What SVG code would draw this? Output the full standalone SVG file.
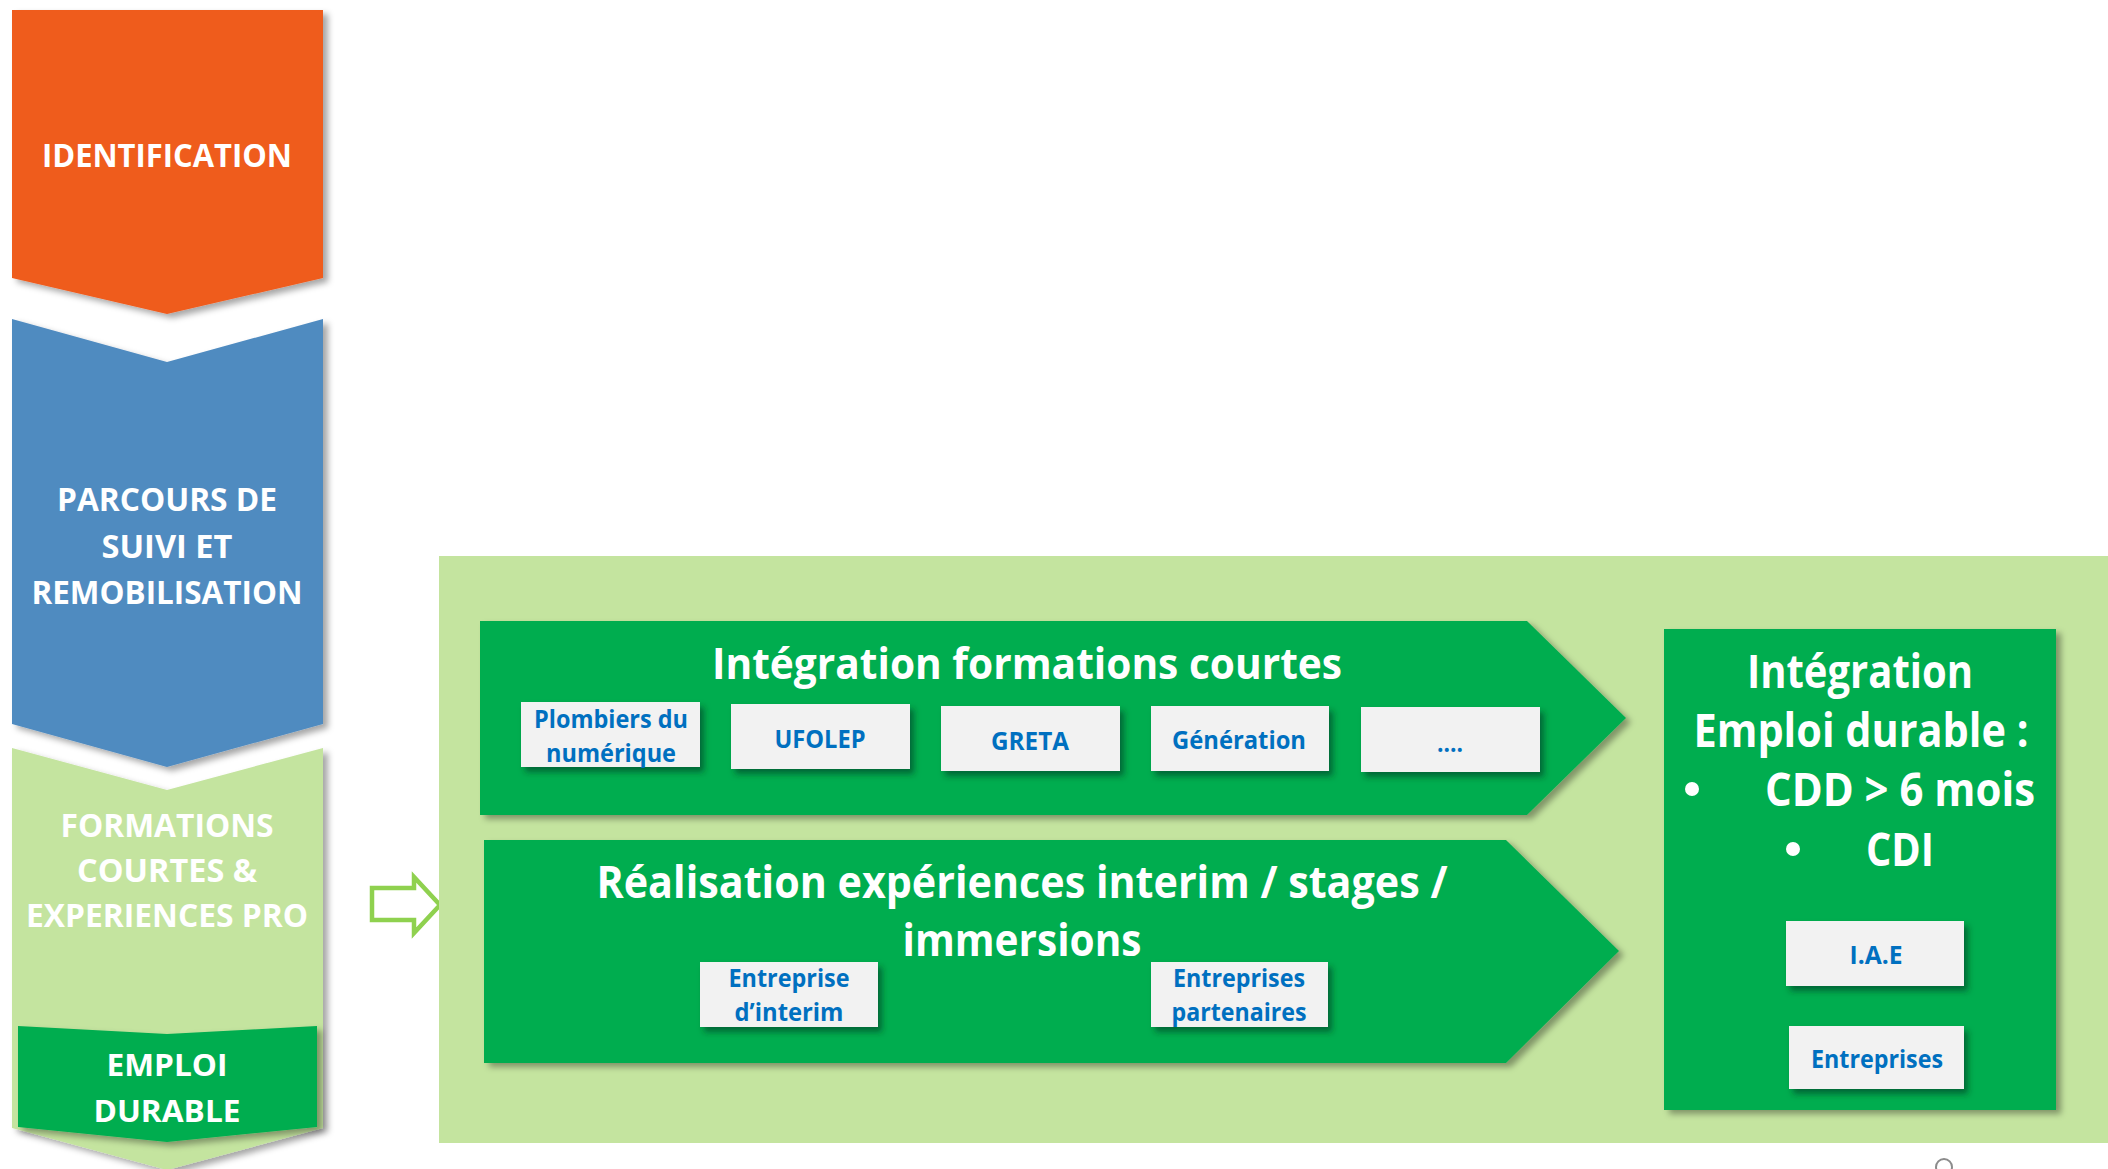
<svg xmlns="http://www.w3.org/2000/svg" width="2108" height="1169" viewBox="0 0 2108 1169">
<defs>
<filter id="sh" x="-10%" y="-10%" width="130%" height="130%">
<feDropShadow dx="5" dy="4" stdDeviation="3" flood-color="#000" flood-opacity="0.35"/>
</filter>
<filter id="shb" x="-10%" y="-10%" width="130%" height="140%">
<feDropShadow dx="4" dy="5" stdDeviation="3" flood-color="#00331a" flood-opacity="0.55"/>
</filter>
</defs>
<style>
text{font-family:"Open Sans","Liberation Sans",sans-serif;font-weight:bold;text-anchor:middle}
.w{fill:#fff}
.b{fill:#0070C0;font-size:25px}
.box{fill:#F2F2F2;filter:url(#shb)}
.grn{fill:#00AD4F;filter:url(#sh)}
.left{font-size:32px}
</style>
<rect width="2108" height="1169" fill="#fff"/>

<g id="identification">
<polygon points="12,10 323,10 323,278 167,314 12,278" fill="#EF5B1D" filter="url(#sh)"/>
<text class="w" x="167" y="167" font-size="33" textLength="250" lengthAdjust="spacingAndGlyphs">IDENTIFICATION</text>
</g>

<g id="parcours">
<polygon points="12,319 167,362 323,319 323,724 167,767 12,724" fill="#508BC0" filter="url(#sh)"/>
<text class="w left" x="167" y="511" textLength="220" lengthAdjust="spacingAndGlyphs">PARCOURS DE</text>
<text class="w left" x="167" y="558" textLength="131" lengthAdjust="spacingAndGlyphs">SUIVI ET</text>
<text class="w left" x="167" y="604" textLength="271" lengthAdjust="spacingAndGlyphs">REMOBILISATION</text>
</g>

<g id="formations">
<polygon points="12,748 167,790 323,748 323,1128 167,1170 12,1128" fill="#C4E49F" filter="url(#sh)"/>
<text class="w left" x="167" y="837" textLength="213" lengthAdjust="spacingAndGlyphs">FORMATIONS</text>
<text class="w left" x="167" y="882" textLength="180" lengthAdjust="spacingAndGlyphs">COURTES &amp;</text>
<text class="w left" x="167" y="927" textLength="282" lengthAdjust="spacingAndGlyphs">EXPERIENCES PRO</text>
</g>

<g id="emploi-durable">
<polygon points="18,1026 167,1034 317,1026 317,1127 167,1142 18,1127" fill="#00AD4F" filter="url(#sh)"/>
<text class="w" x="167" y="1076" font-size="31" textLength="121" lengthAdjust="spacingAndGlyphs">EMPLOI</text>
<text class="w" x="167" y="1122" font-size="31" textLength="147" lengthAdjust="spacingAndGlyphs">DURABLE</text>
</g>

<g id="connectors">
<path d="M372,888 H414 V877 L440,905 L414,933 V920 H372 Z" fill="#fff" stroke="#8FD14F" stroke-width="4.5" stroke-linejoin="miter"/>
</g>

<g id="panel">
<rect x="439" y="556" width="1669" height="587" fill="#C4E49F"/>
</g>

<g id="formations-courtes">
<polygon class="grn" points="480,621 1527,621 1626,718 1527,815 480,815"/>
<text class="w" x="1027" y="679" font-size="43" textLength="630" lengthAdjust="spacingAndGlyphs">Intégration formations courtes</text>
</g>

<g id="plombiers">
<rect class="box" x="521" y="702" width="179" height="65"/>
<text class="b" x="611" y="728" textLength="154" lengthAdjust="spacingAndGlyphs">Plombiers du</text>
<text class="b" x="611" y="762" textLength="130" lengthAdjust="spacingAndGlyphs">numérique</text>
</g>
<g id="ufolep">
<rect class="box" x="731" y="704" width="179" height="65"/>
<text class="b" x="820" y="748" textLength="91" lengthAdjust="spacingAndGlyphs">UFOLEP</text>
</g>
<g id="greta">
<rect class="box" x="941" y="706" width="179" height="65"/>
<text class="b" x="1030" y="750" textLength="78" lengthAdjust="spacingAndGlyphs">GRETA</text>
</g>
<g id="generation">
<rect class="box" x="1151" y="706" width="178" height="65"/>
<text class="b" x="1239" y="749" textLength="134" lengthAdjust="spacingAndGlyphs">Génération</text>
</g>
<g id="etc">
<rect class="box" x="1361" y="707" width="179" height="65"/>
<text class="b" x="1450" y="752" textLength="26" lengthAdjust="spacingAndGlyphs">....</text>
</g>

<g id="experiences">
<polygon class="grn" points="484,840 1506,840 1619,951 1506,1063 484,1063"/>
<text class="w" x="1022" y="898" font-size="44" textLength="851" lengthAdjust="spacingAndGlyphs">Réalisation expériences interim / stages /</text>
<text class="w" x="1022" y="956" font-size="44" textLength="239" lengthAdjust="spacingAndGlyphs">immersions</text>
</g>

<g id="interim">
<rect class="box" x="700" y="962" width="178" height="65"/>
<text class="b" x="789" y="987" font-size="24" textLength="121" lengthAdjust="spacingAndGlyphs">Entreprise</text>
<text class="b" x="789" y="1021" font-size="24" textLength="109" lengthAdjust="spacingAndGlyphs">d’interim</text>
</g>
<g id="partenaires">
<rect class="box" x="1151" y="962" width="177" height="65"/>
<text class="b" x="1239" y="987" font-size="24" textLength="132" lengthAdjust="spacingAndGlyphs">Entreprises</text>
<text class="b" x="1239" y="1021" font-size="24" textLength="135" lengthAdjust="spacingAndGlyphs">partenaires</text>
</g>

<g id="emploi-integration">
<rect class="grn" x="1664" y="629" width="392" height="481"/>
<text class="w" x="1860" y="688" font-size="46" textLength="226" lengthAdjust="spacingAndGlyphs">Intégration</text>
<text class="w" x="1861" y="747" font-size="46" textLength="335" lengthAdjust="spacingAndGlyphs">Emploi durable :</text>
<circle cx="1692" cy="789" r="7" fill="#fff"/>
<text class="w" x="1765" y="806" font-size="46" textLength="270" lengthAdjust="spacingAndGlyphs" style="text-anchor:start">CDD &gt; 6 mois</text>
<circle cx="1793" cy="849" r="7" fill="#fff"/>
<text class="w" x="1866" y="866" font-size="46" textLength="68" lengthAdjust="spacingAndGlyphs" style="text-anchor:start">CDI</text>
</g>
<g id="iae">
<rect class="box" x="1786" y="921" width="178" height="65"/>
<text class="b" x="1876" y="964" textLength="53" lengthAdjust="spacingAndGlyphs">I.A.E</text>
</g>
<g id="entreprises">
<rect class="box" x="1789" y="1026" width="175" height="63"/>
<text class="b" x="1877" y="1068" textLength="132" lengthAdjust="spacingAndGlyphs">Entreprises</text>
</g>

<circle cx="1944" cy="1167" r="8" fill="none" stroke="#8c8c8c" stroke-width="2"/>
</svg>
